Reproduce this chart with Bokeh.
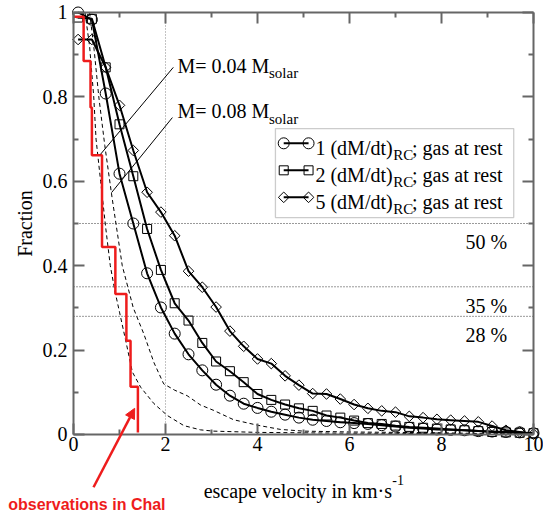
import numpy as np
from bokeh.plotting import figure
from bokeh.models import (Range1d, LinearAxis, FixedTicker, CustomJSTickFormatter,
                          Label, Arrow, NormalHead, BoxAnnotation)
from bokeh.embed import file_html
from bokeh.resources import INLINE

# ---------------- data ----------------
v_grid = [0.1, 0.4, 0.7, 1.0, 1.3, 1.6, 1.9, 2.2, 2.5, 2.8, 3.1, 3.4, 3.7, 4.0, 4.3, 4.6, 4.9,
          5.2, 5.5, 5.8, 6.1, 6.4, 6.7, 7.0, 7.3, 7.6, 7.9, 8.2, 8.5, 8.8, 9.1, 9.4, 9.7, 10.0]
frac_1x = [1.0, 0.983, 0.808, 0.618, 0.500, 0.382, 0.301, 0.239, 0.190, 0.152,
           0.118, 0.092, 0.073, 0.063, 0.054, 0.047, 0.040, 0.035, 0.032, 0.029,
           0.027, 0.025, 0.022, 0.019, 0.016, 0.014, 0.012, 0.011, 0.010, 0.008,
           0.007, 0.006, 0.005, 0.003]
frac_2x = [0.988, 0.985, 0.870, 0.735, 0.612, 0.487, 0.390, 0.311, 0.270, 0.217,
           0.173, 0.150, 0.124, 0.096, 0.082, 0.071, 0.062, 0.056, 0.045, 0.040,
           0.033, 0.027, 0.025, 0.021, 0.018, 0.016, 0.014, 0.012, 0.010, 0.008,
           0.006, 0.005, 0.004, 0.003]
frac_5x = [0.936, 0.936, 0.870, 0.780, 0.673, 0.574, 0.527, 0.471, 0.387, 0.349,
           0.302, 0.245, 0.209, 0.179, 0.168, 0.139, 0.117, 0.097, 0.096, 0.084,
           0.071, 0.062, 0.056, 0.053, 0.043, 0.040, 0.036, 0.034, 0.032, 0.030,
           0.020, 0.010, 0.006, 0.001]

m004_v = [0.25, 0.35, 0.44, 0.49, 0.59, 0.70, 0.80, 0.90, 1.00, 1.13, 1.28, 1.46, 1.75,
          2.04, 2.40, 2.76, 3.04, 4.0, 6.0, 8.0, 10.0]
m004_f = [1.0, 0.92, 0.80, 0.70, 0.60, 0.49, 0.40, 0.34, 0.29, 0.225, 0.148, 0.112, 0.073,
          0.045, 0.021, 0.011, 0.008, 0.005, 0.003, 0.002, 0.0]
m008_v = [0.35, 0.45, 0.55, 0.68, 0.84, 1.06, 1.30, 1.53, 1.75, 1.96, 2.20, 2.47, 2.76,
          3.05, 3.48, 4.0, 4.5, 5.0, 6.0, 7.0, 8.0, 9.0, 10.0]
m008_f = [1.0, 0.91, 0.80, 0.685, 0.56, 0.40, 0.30, 0.238, 0.17, 0.12, 0.105, 0.092, 0.07,
          0.057, 0.035, 0.022, 0.012, 0.008, 0.006, 0.005, 0.004, 0.002, 0.0]

obs_v = [0.0, 0.22, 0.37, 0.40, 0.62, 0.91, 1.15, 1.24, 1.40]
obs_f = [0.99, 0.885, 0.775, 0.662, 0.444, 0.333, 0.222, 0.113, 0.005]

ref_levels = [0.50, 0.35, 0.28]
ref_texts = ["50 %", "35 %", "28 %"]
ref_v = [2.0]

x_ticks = [0, 2, 4, 6, 8, 10]
x_minor = [1, 3, 5, 7, 9]
y_ticks = [0, 0.2, 0.4, 0.6, 0.8, 1.0]
y_minor = [0.1, 0.3, 0.5, 0.7, 0.9]

# ---------------- figure ----------------
SERIF = "Liberation Serif"
AX = "#666666"
RED = "#ee1c1c"

# the frame covers the whole canvas; axes are pinned at the data edges
p = figure(frame_width=543, frame_height=513, output_backend="svg", toolbar_location=None,
           x_range=Range1d(-1.5870, 10.2174), y_range=Range1d(-0.1872, 1.0284),
           x_axis_location=None, y_axis_location=None,
           min_border_left=0, min_border_right=0, min_border_top=0, min_border_bottom=0)
p.xgrid.visible = False
p.ygrid.visible = False
p.outline_line_color = None
p.background_fill_color = "white"
p.border_fill_color = "white"

BLANK = CustomJSTickFormatter(code="return '';")

def style_axis(ax, ticks, minor, bounds):
    ax.ticker = FixedTicker(ticks=ticks, minor_ticks=minor)
    ax.bounds = bounds
    ax.axis_line_color = AX
    ax.axis_line_width = 2
    ax.major_tick_line_color = AX
    ax.minor_tick_line_color = AX
    ax.major_tick_line_width = 2
    ax.minor_tick_line_width = 2
    ax.major_tick_in = 11
    ax.major_tick_out = 0
    ax.minor_tick_in = 5
    ax.minor_tick_out = 0

def blank_labels(ax):
    ax.formatter = BLANK
    ax.major_label_text_font_size = "1px"
    ax.major_label_standoff = 0

# left y axis at x = 0
ya = LinearAxis(fixed_location=0)
style_axis(ya, y_ticks, y_minor, (0, 1))
ya.major_label_text_font = SERIF
ya.major_label_text_font_size = "20px"
ya.major_label_text_color = "black"
ya.major_label_standoff = 6
ya.formatter = CustomJSTickFormatter(code="""
    if (Math.abs(tick) < 1e-9) return '0';
    if (Math.abs(tick - 1) < 1e-9) return '1';
    return tick.toFixed(1);
""")
ya.axis_label = "Fraction"
ya.axis_label_text_font = SERIF
ya.axis_label_text_font_style = "normal"
ya.axis_label_text_font_size = "20px"
ya.axis_label_text_color = "black"
ya.axis_label_standoff = 4
p.add_layout(ya, "left")

# bottom x axis at y = 0
xa = LinearAxis(fixed_location=0)
style_axis(xa, x_ticks, x_minor, (0, 10))
xa.major_label_text_font = SERIF
xa.major_label_text_font_size = "20px"
xa.major_label_text_color = "black"
xa.major_label_standoff = 3
p.add_layout(xa, "below")

# top and right frame axes (ticks only)
top = LinearAxis(fixed_location=1)
style_axis(top, x_ticks, x_minor, (0, 10))
blank_labels(top)
p.add_layout(top, "above")

right = LinearAxis(fixed_location=10)
style_axis(right, y_ticks, y_minor, (0, 1))
blank_labels(right)
p.add_layout(right, "right")

# reference lines
for lv in ref_levels:
    p.segment(x0=[0.0], y0=[lv], x1=[10.0], y1=[lv], line_color="#333333",
              line_width=1, line_dash="1 2")
p.segment(x0=ref_v, y0=[0.0], x1=ref_v, y1=[1.0], line_color="#888888",
          line_width=1, line_dash="1 2")

for lv, t in zip(ref_levels, ref_texts):
    p.add_layout(Label(x=9.43, y=lv - 0.045, text=t, text_align="right",
                       text_baseline="alphabetic", text_font=SERIF,
                       text_font_size="20px", text_color="black"))

# dashed model curves
p.line(m004_v, m004_f, line_color="black", line_width=1, line_dash="4 3")
p.line(m008_v, m008_f, line_color="black", line_width=1, line_dash="4 3")

# simulated curves
p.line(v_grid, frac_1x, line_color="black", line_width=2)
p.line(v_grid, frac_2x, line_color="black", line_width=2)
p.line(v_grid, frac_5x, line_color="black", line_width=2)
p.scatter(v_grid, frac_1x, marker="circle", size=11, fill_color=None,
          line_color="black", line_width=1)
p.scatter(v_grid, frac_2x, marker="square", size=9, fill_color=None,
          line_color="black", line_width=1)
p.scatter(v_grid, frac_5x, marker="square", size=7.5, angle=np.pi / 4, fill_color=None,
          line_color="black", line_width=1)

# observations (red step)
p.step(obs_v, obs_f, mode="after", line_color=RED, line_width=2.5)

# M labels with pointer lines
p.segment(x0=[2.17, 2.15], y0=[0.870, 0.751], x1=[0.587, 0.826], y1=[0.664, 0.573],
          line_color="black", line_width=1)
for (yb, mtxt) in [(0.874, "M= 0.04 M"), (0.766, "M= 0.08 M")]:
    p.add_layout(Label(x=2.26, y=yb, text=mtxt, text_align="left",
                       text_baseline="alphabetic", text_font=SERIF,
                       text_font_size="20px", text_color="black"))
    p.add_layout(Label(x=4.25, y=yb - 0.018, text="solar", text_align="left",
                       text_baseline="alphabetic", text_font=SERIF,
                       text_font_size="15px", text_color="black"))

# legend box
p.add_layout(BoxAnnotation(left=4.39, right=9.57, bottom=0.514, top=0.725,
                           fill_color="white", fill_alpha=1.0, line_color="#555555",
                           line_width=1.3, level="underlay"))
leg_rows = [0.690, 0.626, 0.562]
leg_nums = ["1", "2", "5"]
p.segment(x0=[4.57] * 3, y0=leg_rows, x1=[5.11] * 3, y1=leg_rows,
          line_color="black", line_width=2)
p.scatter([4.57, 5.11], [leg_rows[0]] * 2, marker="circle", size=11, fill_color=None,
          line_color="black", line_width=1)
p.scatter([4.57, 5.11], [leg_rows[1]] * 2, marker="square", size=9, fill_color=None,
          line_color="black", line_width=1)
p.scatter([4.57, 5.11], [leg_rows[2]] * 2, marker="square", size=7.5, angle=np.pi / 4,
          fill_color=None, line_color="black", line_width=1)
for yr, n in zip(leg_rows, leg_nums):
    p.add_layout(Label(x=5.26, y=yr - 0.012, text=f"{n} (dM/dt)", text_align="left",
                       text_baseline="alphabetic", text_font=SERIF,
                       text_font_size="20px", text_color="black"))
    p.add_layout(Label(x=6.95, y=yr - 0.027, text="RC", text_align="left",
                       text_baseline="alphabetic", text_font=SERIF,
                       text_font_size="15px", text_color="black"))
    p.add_layout(Label(x=7.36, y=yr - 0.012, text="; gas at rest", text_align="left",
                       text_baseline="alphabetic", text_font=SERIF,
                       text_font_size="20px", text_color="black"))

# x axis title with superscript
p.add_layout(Label(x=2.83, y=-0.1327, text="escape velocity in km\u00b7s", text_align="left",
                   text_baseline="alphabetic", text_font=SERIF,
                   text_font_size="20px", text_color="black"))
p.add_layout(Label(x=6.93, y=-0.109, text="-1", text_align="left",
                   text_baseline="alphabetic", text_font=SERIF,
                   text_font_size="14px", text_color="black"))

# red annotation
p.add_layout(Arrow(end=NormalHead(size=10, fill_color=RED, line_color=RED),
                   x_start=0.435, y_start=-0.125, x_end=1.33, y_end=0.062,
                   line_color=RED, line_width=2.5))
p.add_layout(Label(x=-1.42, y=-0.1659, text="observations in Chal", text_align="left",
                   text_baseline="alphabetic", text_font="Liberation Sans",
                   text_font_style="bold", text_font_size="16px", text_color=RED))

open("out.html", "w").write(file_html(p, INLINE))
